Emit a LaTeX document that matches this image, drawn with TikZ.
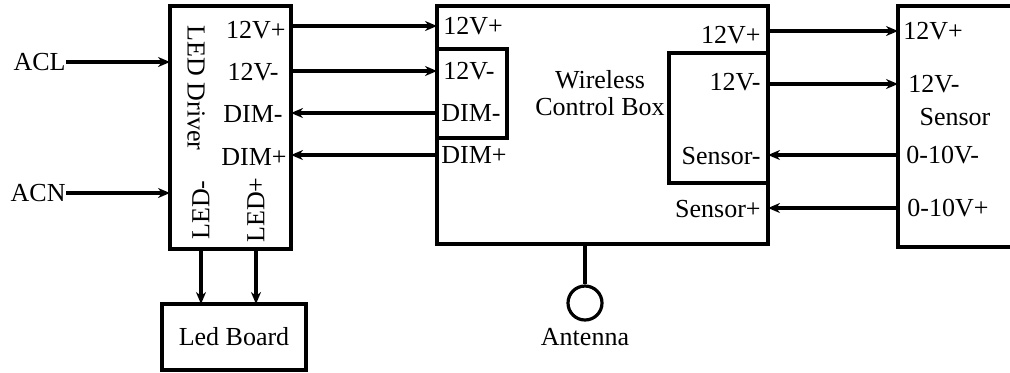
\documentclass[tikz,border=0pt]{standalone}
\usepackage{fontspec}
\setmainfont{Liberation Serif}
\usetikzlibrary{arrows.meta,positioning}

\begin{document}
\begin{tikzpicture}[x=0.5pt,y=-0.5pt,font=\fontsize{13}{13.5}\selectfont,
box/.style={draw,line width=1.6pt,outer sep=0pt,inner sep=0pt,anchor=north west},
lbl/.style={inner sep=0pt},
arr/.style={-{Stealth[length=6pt,width=5pt]},line width=1.6pt}]
\useasboundingbox (0,0) rectangle (1010,372);
\node[box,minimum width=60.5pt,minimum height=121.5pt] (drv) at (170,6) {};
\node[box,minimum width=72pt,minimum height=33pt] (board) at (162,304) {Led Board};
\node[box,minimum width=165.5pt,minimum height=119pt] (wcb) at (437,6) {};
\node[box,minimum width=35pt,minimum height=44.5pt] (wdim) at (437,49) {};
\node[box,minimum width=49.5pt,minimum height=65pt] (wsen) at (669,53) {};
\node[box,minimum width=66pt,minimum height=120.5pt] (sen) at (898,6) {};
\node[draw,circle,line width=1.6pt,minimum size=17pt,inner sep=0pt] (ant) at (585,303) {};
\node[lbl] (antname) at (585,337) {Antenna};
\node[lbl,anchor=east] (acl) at (66,62) {ACL};
\node[lbl,anchor=east] (acn) at (66,193) {ACN};
\node[lbl,rotate=-90] (drvname) at (196,88) {LED Driver};
\node[lbl,rotate=90] (ledn) at (201,210) {LED-};
\node[lbl,rotate=90] (ledp) at (256,210) {LED+};
\node[lbl,anchor=east] (d12p) at (286,30) {12V+};
\node[lbl,anchor=east] (d12n) at (279,72) {12V-};
\node[lbl,anchor=east] (ddimn) at (283,114) {DIM-};
\node[lbl,anchor=east] (ddimp) at (287,157) {DIM+};
\node[lbl,anchor=west] (w12p) at (443,26) {12V+};
\node[lbl,anchor=west] (w12n) at (443,71) {12V-};
\node[lbl,anchor=west] (wdimn) at (441,113) {DIM-};
\node[lbl,anchor=west] (wdimp) at (441,155) {DIM+};
\node[lbl,align=center] (wcbname) at (600,93) {Wireless\\Control Box};
\node[lbl,anchor=east] (w12pr) at (761,35) {12V+};
\node[lbl,anchor=east] (w12nr) at (761,82) {12V-};
\node[lbl,anchor=east] (wsenn) at (761,156) {Sensor-};
\node[lbl,anchor=east] (wsenp) at (761,209) {Sensor+};
\node[lbl,anchor=west] (s12p) at (903,31) {12V+};
\node[lbl,anchor=west] (s12n) at (908,84) {12V-};
\node[lbl] (senname) at (955,117) {Sensor};
\node[lbl,anchor=west] (s010n) at (906,155) {0-10V-};
\node[lbl,anchor=west] (s010p) at (907,208) {0-10V+};
\draw[arr] (acl) -- (drv.west |- acl);
\draw[arr] (acn) -- (drv.west |- acn);
\draw[arr] (drv.east |- w12p) -- (wcb.west |- w12p);
\draw[arr] (drv.east |- w12n) -- (wcb.west |- w12n);
\draw[arr] (wcb.west |- wdimn) -- (drv.east |- wdimn);
\draw[arr] (wcb.west |- wdimp) -- (drv.east |- wdimp);
\draw[arr] (drv.south -| ledn) -- (board.north -| ledn);
\draw[arr] (drv.south -| ledp) -- (board.north -| ledp);
\draw[arr] (wcb.east |- s12p) -- (sen.west |- s12p);
\draw[arr] (wcb.east |- s12n) -- (sen.west |- s12n);
\draw[arr] (sen.west |- s010n) -- (wcb.east |- s010n);
\draw[arr] (sen.west |- s010p) -- (wcb.east |- s010p);
\draw[line width=1.6pt] (wcb.south -| ant) -- (ant.north);
\end{tikzpicture}
\end{document}
